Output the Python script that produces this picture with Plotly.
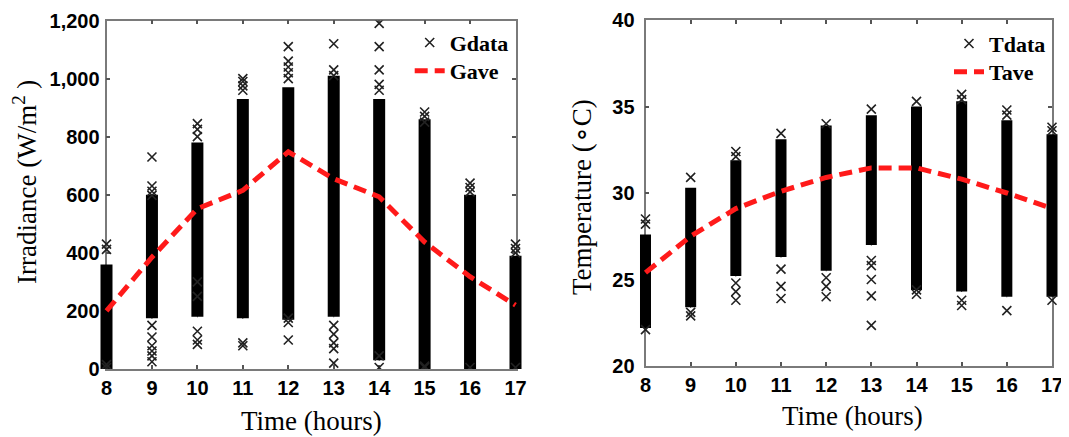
import plotly.graph_objects as go

hours = [8, 9, 10, 11, 12, 13, 14, 15, 16, 17]

# Irradiance: dense core range per hour and averages
g_core_lo = [0, 175, 180, 175, 170, 180, 30, 0, 0, 0]
g_core_hi = [360, 600, 780, 930, 970, 1010, 930, 860, 600, 390]
g_ave = [200, 385, 552, 615, 748, 655, 593, 437, 318, 220]

# Irradiance: individual scattered points (hour, value)
g_pts_x = [8, 8, 8, 8,
           9, 9, 9, 9, 9, 9, 9, 9, 9, 9,
           10, 10, 10, 10, 10, 10, 10, 10,
           11, 11, 11, 11, 11, 11,
           12, 12, 12, 12, 12, 12, 12, 12,
           13, 13, 13, 13, 13, 13, 13, 13,
           14, 14, 14, 14, 14, 14, 14,
           15, 15, 15, 15, 15,
           16, 16, 16, 16,
           17, 17, 17, 17]
g_pts_y = [430, 412, 5, 15,
           730, 630, 612, 598, 150, 110, 80, 62, 45, 25,
           845, 825, 800, 300, 250, 130, 100, 85,
           1000, 990, 975, 960, 90, 80,
           1110, 1060, 1040, 1020, 1000, 175, 160, 100,
           1120, 1030, 1010, 150, 120, 90, 70, 20,
           1190, 1110, 1030, 980, 960, 45, 5,
           885, 870, 850, 10, 5,
           640, 625, 610, 5,
           430, 415, 400, 5]

# Temperature: dense core range per hour and averages
t_core_lo = [22.2, 23.4, 25.2, 26.3, 25.5, 27.0, 24.4, 24.3, 24.0, 24.0]
t_core_hi = [27.6, 30.3, 31.9, 33.1, 33.9, 34.5, 35.0, 35.3, 34.2, 33.4]
t_ave = [25.4, 27.5, 29.1, 30.1, 30.9, 31.45, 31.45, 30.8, 30.0, 29.1]

t_pts_x = [8, 8, 8,
           9, 9, 9,
           10, 10, 10, 10, 10,
           11, 11, 11, 11,
           12, 12, 12, 12,
           13, 13, 13, 13, 13, 13,
           14, 14, 14,
           15, 15, 15, 15,
           16, 16, 16,
           17, 17, 17]
t_pts_y = [28.5, 28.2, 22.1,
           30.9, 23.1, 22.9,
           32.4, 32.1, 24.8, 24.3, 23.8,
           33.45, 25.6, 24.6, 23.9,
           34.0, 25.1, 24.6, 24.0,
           34.85, 26.1, 25.8, 25.0, 24.05, 22.35,
           35.3, 24.4, 24.15,
           35.7, 35.4, 23.8, 23.5,
           34.8, 34.5, 23.2,
           33.8, 33.6, 23.8]

# The page body adds an 8px margin, so the figure is sized to fill the
# remaining window and screen positions are converted to figure positions.
OFF = 8
W, H = 1069 - OFF, 437 - OFF
SERIF = "Liberation Serif, Times New Roman, serif"
SANS = "Liberation Sans, Arial, sans-serif"
MARK = dict(symbol="x-thin", size=9, line=dict(width=1.6, color="#222222"), color="#222222")
LEG_FONT = dict(family=SERIF, size=22, color="black", weight="bold")
TICK_FONT = dict(family=SANS, size=20, color="black", weight="bold")
TITLE_FONT = dict(family=SERIF, size=27, color="black")
RED = "#ff1a1a"
DASH = "13px,7px"

# plot-area geometry (screen pixels)
L_X0, L_X1, L_Y0, L_Y1 = 106.5, 515.5, 20.5, 369
R_X0, R_X1, R_Y0, R_Y1 = 645.5, 1052, 20, 366
PAD = 0.25  # extra hours on the unclipped overlay axes


def px(sx):
    return (sx - OFF) / W


def py(sy):
    return 1 - (sy - OFF) / H


def xdom(x0, x1):
    return [px(x0), px(x1)]


def ydom(y0, y1):
    return [py(y1), py(y0)]


def wide_dom(x0, x1):
    per = (x1 - x0) / 9.0
    return [max(0.0, px(x0 - PAD * per)), min(1.0, px(x1 + PAD * per))]


def leg(text_x, center_y):
    return dict(x=px(text_x - 42), y=py(center_y - 20), xanchor="left", yanchor="top",
                bgcolor="rgba(0,0,0,0)", font=LEG_FONT, itemwidth=30)


fig = go.Figure()

# empty traces so the visible axes own their subplots
fig.add_trace(go.Scatter(x=[], y=[], xaxis="x", yaxis="y", showlegend=False))
fig.add_trace(go.Scatter(x=[], y=[], xaxis="x2", yaxis="y2", showlegend=False))

# ---------- left: irradiance (drawn on the wider overlay axis x3) ----------
fig.add_trace(go.Scatter(
    x=hours, y=g_core_lo, mode="markers", marker=dict(size=1, color="black"),
    error_y=dict(type="data", symmetric=False,
                 array=[h - l for h, l in zip(g_core_hi, g_core_lo)],
                 arrayminus=[0] * len(hours), thickness=12, width=0, color="black"),
    showlegend=False, hoverinfo="skip", xaxis="x3", yaxis="y"))
fig.add_trace(go.Scatter(
    x=g_pts_x, y=g_pts_y, mode="markers", name="Gdata", marker=MARK,
    xaxis="x3", yaxis="y", legend="legend"))
fig.add_trace(go.Scatter(
    x=hours, y=g_ave, mode="lines", name="Gave",
    line=dict(color=RED, width=5, dash=DASH),
    xaxis="x3", yaxis="y", legend="legend2"))

# ---------- right: temperature (drawn on the wider overlay axis x4) ----------
fig.add_trace(go.Scatter(
    x=hours, y=t_core_lo, mode="markers", marker=dict(size=1, color="black"),
    error_y=dict(type="data", symmetric=False,
                 array=[h - l for h, l in zip(t_core_hi, t_core_lo)],
                 arrayminus=[0] * len(hours), thickness=11, width=0, color="black"),
    showlegend=False, hoverinfo="skip", xaxis="x4", yaxis="y2"))
fig.add_trace(go.Scatter(
    x=t_pts_x, y=t_pts_y, mode="markers", name="Tdata", marker=MARK,
    xaxis="x4", yaxis="y2", legend="legend3"))
fig.add_trace(go.Scatter(
    x=hours, y=t_ave, mode="lines", name="Tave",
    line=dict(color=RED, width=5, dash=DASH),
    xaxis="x4", yaxis="y2", legend="legend4"))

axis_common = dict(showline=True, linecolor="#7a7a7a", linewidth=1.8, mirror="ticks",
                   ticks="inside", ticklen=4, tickcolor="#555555", tickwidth=1.5,
                   showgrid=False, zeroline=False, tickfont=TICK_FONT, automargin=False)

fig.update_layout(
    width=W, height=H,
    margin=dict(l=0, r=0, t=0, b=0),
    paper_bgcolor="white", plot_bgcolor="rgba(0,0,0,0)",
    showlegend=True,
    xaxis=dict(domain=xdom(L_X0, L_X1), range=[8, 17], dtick=1, tick0=8,
               anchor="y", ticklabelstandoff=0, **axis_common),
    yaxis=dict(domain=ydom(L_Y0, L_Y1), range=[0, 1200], dtick=200, tickformat=",d",
               anchor="x", ticklabelstandoff=1, **axis_common),
    xaxis2=dict(domain=xdom(R_X0, R_X1), range=[8, 17], dtick=1, tick0=8,
                anchor="y2", ticklabelstandoff=0, **axis_common),
    yaxis2=dict(domain=ydom(R_Y0, R_Y1), range=[20, 40], dtick=5,
                anchor="x2", ticklabelstandoff=5, **axis_common),
    xaxis3=dict(domain=wide_dom(L_X0, L_X1), range=[8 - PAD, 17 + PAD],
                anchor="y", visible=False, automargin=False),
    xaxis4=dict(domain=wide_dom(R_X0, R_X1), range=[8 - PAD, 17 + PAD],
                anchor="y2", visible=False, automargin=False),
    legend=leg(451.7, 41.7),
    legend2=leg(451.7, 70),
    legend3=leg(991, 42.7),
    legend4=leg(991, 71),
    annotations=[
        dict(text="Time (hours)", x=px(311), y=py(421), xref="paper", yref="paper",
             showarrow=False, font=TITLE_FONT, xanchor="center", yanchor="middle"),
        dict(text="Irradiance (W/m<sup>2</sup> )", x=px(25), y=py(182),
             xref="paper", yref="paper", textangle=-90,
             showarrow=False, font=TITLE_FONT, xanchor="center", yanchor="middle"),
        dict(text="Time (hours)", x=px(852), y=py(416), xref="paper", yref="paper",
             showarrow=False, font=TITLE_FONT, xanchor="center", yanchor="middle"),
        dict(text="Temperature (∘C)", x=px(582), y=py(197),
             xref="paper", yref="paper", textangle=-90,
             showarrow=False, font=TITLE_FONT, xanchor="center", yanchor="middle"),
    ],
)

fig.write_html("out.html")
